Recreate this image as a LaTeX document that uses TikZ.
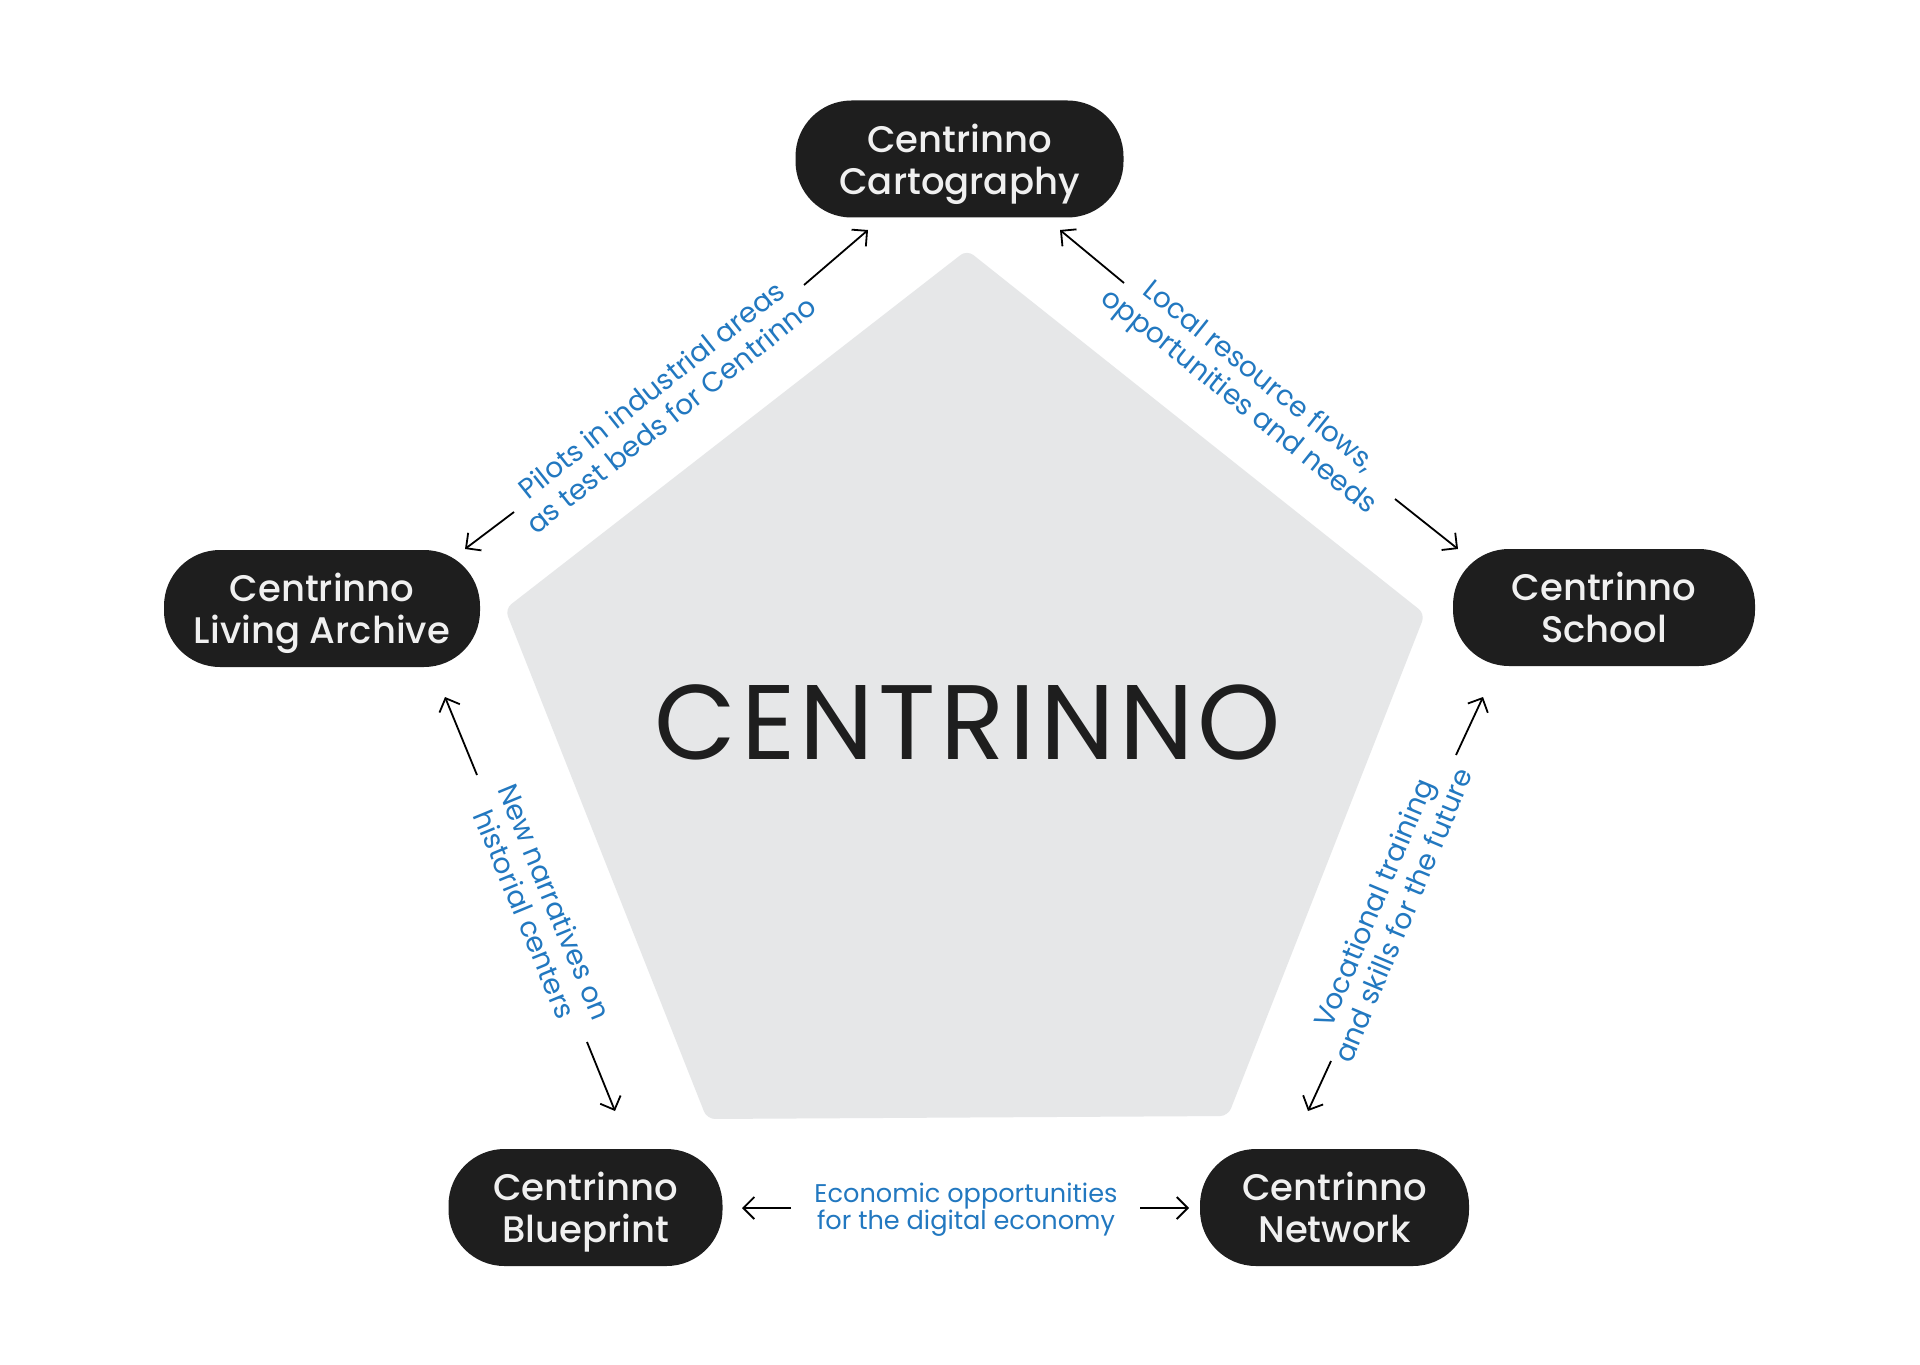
\documentclass[tikz,border=0pt]{standalone}
\usepackage{fontspec}
\setmainfont{Poppins}
\newfontfamily\medfont{Poppins Medium}
\usetikzlibrary{arrows.meta}
\definecolor{nodebg}{RGB}{30,30,30}
\definecolor{pent}{RGB}{230,231,232}
\definecolor{lblue}{RGB}{34,120,192}
\begin{document}
\begin{tikzpicture}[x=0.5pt,y=-0.5pt,
  box/.style={fill=nodebg, rounded corners=28pt, text=white!94!black, align=center,
    font=\medfont\fontsize{18.5}{21}\selectfont, minimum height=58.5pt, inner sep=0pt, text depth=0pt},
  lbl/.style={text=lblue, align=center, font=\fontsize{14}{16}\selectfont, inner sep=0pt},
  arr/.style={-{Straight Barb[length=5.5pt,width=11pt]}, line width=0.9pt}]
\useasboundingbox (0,0) rectangle (1920,1364);
\fill[white] (0,0) rectangle (1920,1364);
\fill[pent, rounded corners=4pt] (967,250) -- (1425,614) -- (1228,1116) -- (707,1119) -- (505,609) -- cycle;
\node[text=nodebg, inner sep=0pt, font=\fontsize{53}{60}\selectfont\addfontfeature{LetterSpace=4.2}] (core) at (968,722) {CENTRINNO};

\node[box, minimum width=164pt] (cart) at (959.5,159) {Centrinno\\Cartography};
\node[box, minimum width=158pt] (arch) at (322,608.5) {Centrinno\\Living Archive};
\node[box, minimum width=151pt] (school) at (1604,607.5) {Centrinno\\School};
\node[box, minimum width=137pt] (blue) at (585.5,1207.5) {Centrinno\\Blueprint};
\node[box, minimum width=134.5pt] (net) at (1334.5,1207.5) {Centrinno\\Network};

\node[lbl, rotate=38.5] (lp) at (661,402) {Pilots in industrial areas\\as test beds for Centrinno};
\node[lbl, rotate=-38.6] (ll) at (1248,390) {Local resource flows,\\opportunities and needs};
\node[lbl, rotate=-67.6] (ln) at (540,908) {New narratives on\\historial centers};
\node[lbl, rotate=67.2] (lv) at (1388,909) {Vocational training\\and skills for the future};
\node[lbl, font=\fontsize{12.8}{13.5}\selectfont] (le) at (966,1210) {Economic opportunities\\for the digital economy};

\coordinate (p1t) at (804,285); \coordinate (p1h) at (868,230);
\coordinate (p2t) at (514,512); \coordinate (p2h) at (465,549);
\coordinate (l1t) at (1124,283); \coordinate (l1h) at (1060,230);
\coordinate (l2t) at (1395,499); \coordinate (l2h) at (1458,549);
\coordinate (n1t) at (477,775); \coordinate (n1h) at (445,697);
\coordinate (n2t) at (587,1042); \coordinate (n2h) at (615,1111);
\coordinate (v1t) at (1456,755); \coordinate (v1h) at (1483,697);
\coordinate (v2t) at (1331,1061); \coordinate (v2h) at (1308,1111);
\coordinate (e1t) at (791,1208); \coordinate (e1h) at (742,1208);
\coordinate (e2t) at (1140,1208); \coordinate (e2h) at (1189,1208);

\draw[arr] (p1t) -- (p1h);
\draw[arr] (p2t) -- (p2h);
\draw[arr] (l1t) -- (l1h);
\draw[arr] (l2t) -- (l2h);
\draw[arr] (n1t) -- (n1h);
\draw[arr] (n2t) -- (n2h);
\draw[arr] (v1t) -- (v1h);
\draw[arr] (v2t) -- (v2h);
\draw[arr] (e1t) -- (e1h);
\draw[arr] (e2t) -- (e2h);
\end{tikzpicture}
\end{document}
